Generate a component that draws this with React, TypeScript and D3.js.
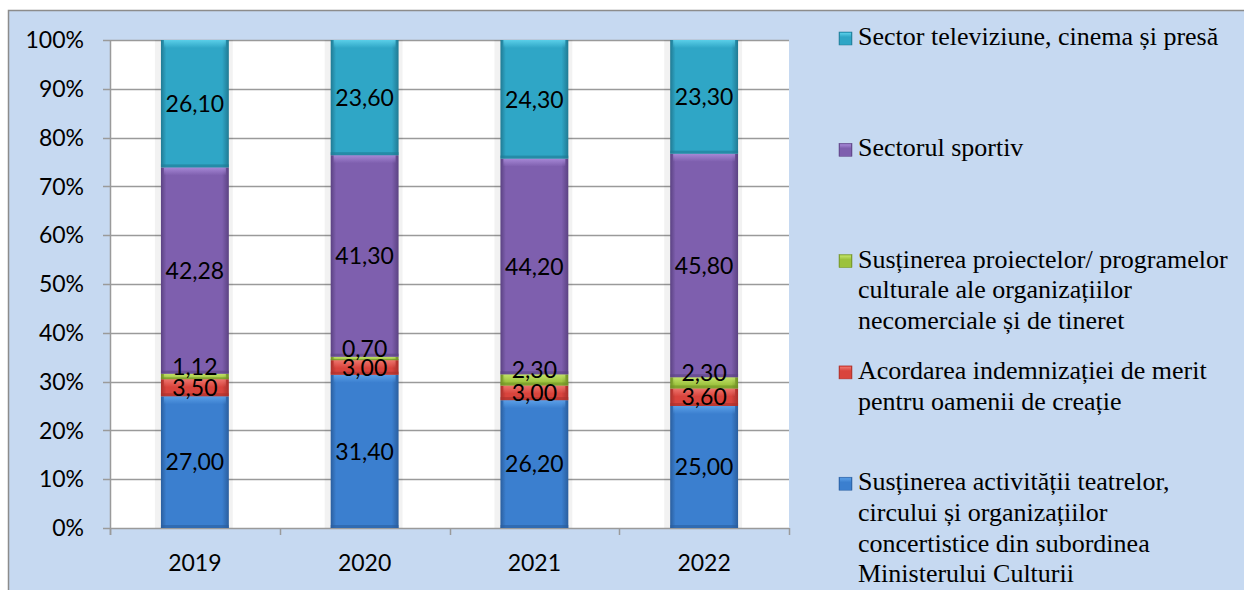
import { useRef, useEffect } from "react";
import * as d3 from "d3";

// Data (in %)
const years = ["2019", "2020", "2021", "2022"];
const keys = ["teatre", "indemnizatie", "proiecte", "sport", "tv"];
const teatre = [27.0, 31.4, 26.2, 25.0];
const indemnizatie = [3.5, 3.0, 3.0, 3.6];
const proiecte = [1.12, 0.7, 2.3, 2.3];
const sport = [42.28, 41.3, 44.2, 45.8];
const tv = [26.1, 23.6, 24.3, 23.3];
const yTicks = [0, 0.1, 0.2, 0.3, 0.4, 0.5, 0.6, 0.7, 0.8, 0.9, 1];

const legendItems = [
  { key: "tv", lines: ["Sector televiziune, cinema și presă"] },
  { key: "sport", lines: ["Sectorul sportiv"] },
  {
    key: "proiecte",
    lines: ["Susținerea proiectelor/ programelor", "culturale ale organizațiilor", "necomerciale și de tineret"],
  },
  { key: "indemnizatie", lines: ["Acordarea indemnizației de merit", "pentru oamenii de creație"] },
  {
    key: "teatre",
    lines: ["Susținerea activității teatrelor,", "circului și organizațiilor", "concertistice din subordinea", "Ministerului Culturii"],
  },
];

const colors = {
  teatre: { base: "#3b7fcf", light: "#5ea3ea", dark: "#2a5e9e" },
  indemnizatie: { base: "#d9443d", light: "#f07a72", dark: "#a8302b" },
  proiecte: { base: "#9cc23d", light: "#c7e66e", dark: "#6f8f25" },
  sport: { base: "#7e5fae", light: "#ab8ddb", dark: "#5b4282" },
  tv: { base: "#2fa6c6", light: "#5fd3ec", dark: "#207a93" },
};

const SANS = "Lato, 'Open Sans', sans-serif";
const SERIF = "'Liberation Serif', 'Times New Roman', 'DejaVu Serif', serif";

function fmt(v: number) {
  return v.toFixed(2).replace(".", ",");
}

export default function App() {
  const ref = useRef<SVGSVGElement>(null);

  useEffect(() => {
    const svg = d3.select(ref.current);
    svg.selectAll("*").remove();

    const W = 1244,
      H = 590;
    const margin = { left: 110, right: 455, top: 40, bottom: 62 };

    const rows = years.map((y, i) => ({
      year: y,
      teatre: teatre[i],
      indemnizatie: indemnizatie[i],
      proiecte: proiecte[i],
      sport: sport[i],
      tv: tv[i],
    }));

    const stack = d3.stack<any>().keys(keys).offset(d3.stackOffsetExpand);
    const series = stack(rows);

    const x = d3
      .scaleBand()
      .domain(years)
      .range([margin.left, W - margin.right])
      .paddingInner(0.6)
      .paddingOuter(0.3);
    const y = d3.scaleLinear().domain([0, 1]).range([H - margin.bottom, margin.top]);

    // gradients
    const defs = svg.append("defs");
    keys.forEach((k) => {
      const c = (colors as any)[k];
      const g = defs
        .append("linearGradient")
        .attr("id", "g-" + k)
        .attr("x1", 0)
        .attr("x2", 1)
        .attr("y1", 0)
        .attr("y2", 0);
      g.append("stop").attr("offset", "0%").attr("stop-color", c.dark);
      g.append("stop").attr("offset", "8%").attr("stop-color", c.base);
      g.append("stop").attr("offset", "90%").attr("stop-color", c.base);
      g.append("stop").attr("offset", "100%").attr("stop-color", c.dark);
      const v = defs
        .append("linearGradient")
        .attr("id", "v-" + k)
        .attr("x1", 0)
        .attr("x2", 0)
        .attr("y1", 0)
        .attr("y2", 1);
      v.append("stop").attr("offset", "0%").attr("stop-color", c.light).attr("stop-opacity", 0.9);
      v.append("stop").attr("offset", "100%").attr("stop-color", c.light).attr("stop-opacity", 0);
    });

    // background
    svg.append("rect").attr("x", 0).attr("y", 0).attr("width", W).attr("height", H).attr("fill", "#ffffff");
    svg
      .append("rect")
      .attr("x", 8.5)
      .attr("y", 10.5)
      .attr("width", W)
      .attr("height", H)
      .attr("fill", "#c6d9f1")
      .attr("stroke", "#8c8c8c")
      .attr("stroke-width", 1.5);

    // plot area
    svg
      .append("rect")
      .attr("x", margin.left)
      .attr("y", margin.top)
      .attr("width", W - margin.right - margin.left)
      .attr("height", H - margin.bottom - margin.top)
      .attr("fill", "#ffffff");

    // gridlines + y ticks
    svg
      .append("g")
      .selectAll("line")
      .data(yTicks)
      .join("line")
      .attr("x1", margin.left - 7)
      .attr("x2", W - margin.right)
      .attr("y1", (d) => Math.round(y(d)) + 0.5)
      .attr("y2", (d) => Math.round(y(d)) + 0.5)
      .attr("stroke", "#9a9a9a")
      .attr("stroke-width", 1.5);

    svg
      .append("g")
      .selectAll("text")
      .data(yTicks)
      .join("text")
      .attr("x", 84)
      .attr("y", (d) => y(d))
      .attr("dy", "0.36em")
      .attr("text-anchor", "end")
      .style("font-family", SANS)
      .attr("font-size", 23)
      .attr("fill", "#000")
      .text((d) => d3.format(".0%")(d));

    // axes lines
    svg
      .append("line")
      .attr("x1", margin.left + 0.5)
      .attr("x2", margin.left + 0.5)
      .attr("y1", margin.top)
      .attr("y2", H - margin.bottom + 7)
      .attr("stroke", "#9a9a9a")
      .attr("stroke-width", 1.5);

    const bounds = d3.range(years.length + 1).map((i) => margin.left + i * ((W - margin.right - margin.left) / years.length));
    svg
      .append("g")
      .selectAll("line")
      .data(bounds)
      .join("line")
      .attr("x1", (d) => Math.round(d) + 0.5)
      .attr("x2", (d) => Math.round(d) + 0.5)
      .attr("y1", H - margin.bottom)
      .attr("y2", H - margin.bottom + 7)
      .attr("stroke", "#9a9a9a")
      .attr("stroke-width", 1.5);

    // bar shadows
    const bw = x.bandwidth();
    svg
      .append("g")
      .selectAll("rect")
      .data(years)
      .join("rect")
      .attr("x", (d) => (x(d) as number) - 6)
      .attr("y", margin.top)
      .attr("width", bw + 10)
      .attr("height", H - margin.bottom - margin.top)
      .attr("fill", "#000")
      .attr("opacity", 0.05);

    // bars
    series.forEach((s) => {
      const k = s.key;
      const g = svg.append("g");
      g.selectAll("rect.base")
        .data(s)
        .join("rect")
        .attr("class", "base")
        .attr("x", (d: any) => x(d.data.year) as number)
        .attr("y", (d) => y(d[1]))
        .attr("width", bw)
        .attr("height", (d) => y(d[0]) - y(d[1]))
        .attr("fill", `url(#g-${k})`);
      g.selectAll("rect.hl")
        .data(s)
        .join("rect")
        .attr("class", "hl")
        .attr("x", (d: any) => (x(d.data.year) as number) + 3)
        .attr("y", (d) => y(d[1]))
        .attr("width", bw - 6)
        .attr("height", (d) => Math.min(8, y(d[0]) - y(d[1])))
        .attr("fill", `url(#v-${k})`);
      g.selectAll("rect.bt")
        .data(s)
        .join("rect")
        .attr("class", "bt")
        .attr("x", (d: any) => x(d.data.year) as number)
        .attr("y", (d) => y(d[0]) - Math.min(3, (y(d[0]) - y(d[1])) / 3))
        .attr("width", bw)
        .attr("height", (d) => Math.min(3, (y(d[0]) - y(d[1])) / 3))
        .attr("fill", (colors as any)[k].dark)
        .attr("opacity", 0.6);
    });

    // value labels
    series.forEach((s) => {
      const k = s.key;
      const dy = k === "proiecte" ? -10 : 0;
      svg
        .append("g")
        .selectAll("text")
        .data(s)
        .join("text")
        .attr("x", (d: any) => (x(d.data.year) as number) + bw / 2)
        .attr("y", (d) => (y(d[0]) + y(d[1])) / 2 + dy)
        .attr("dy", "0.36em")
        .attr("text-anchor", "middle")
        .style("font-family", SANS)
        .attr("font-size", 23)
        .attr("fill", "#000")
        .text((d: any) => fmt(d.data[k]));
    });

    // x labels
    svg
      .append("g")
      .selectAll("text")
      .data(years)
      .join("text")
      .attr("x", (d) => (x(d) as number) + bw / 2)
      .attr("y", H - margin.bottom + 35)
      .attr("dy", "0.36em")
      .attr("text-anchor", "middle")
      .style("font-family", SANS)
      .attr("font-size", 23)
      .attr("fill", "#000")
      .text((d) => d);

    // legend
    const lg = svg.append("g");
    legendItems.forEach((item, i) => {
      const base = 45 + i * 111.3;
      const c = (colors as any)[item.key];
      lg.append("rect")
        .attr("x", 839)
        .attr("y", base - 13)
        .attr("width", 13)
        .attr("height", 13)
        .attr("fill", `url(#g-${item.key})`)
        .attr("stroke", c.dark)
        .attr("stroke-width", 0.5);
      lg.append("rect")
        .attr("x", 840)
        .attr("y", base - 12)
        .attr("width", 11)
        .attr("height", 4)
        .attr("fill", `url(#v-${item.key})`);
      item.lines.forEach((t, j) => {
        lg.append("text")
          .attr("x", 858)
          .attr("y", base + j * 30.7)
          .style("font-family", SERIF)
          .attr("font-size", 26)
          .attr("fill", "#000")
          .text(t);
      });
    });
  }, []);

  return (
    <svg
      ref={ref}
      width={1244}
      height={590}
      style={{ position: "absolute", left: 0, top: 0, display: "block" }}
    ></svg>
  );
}
